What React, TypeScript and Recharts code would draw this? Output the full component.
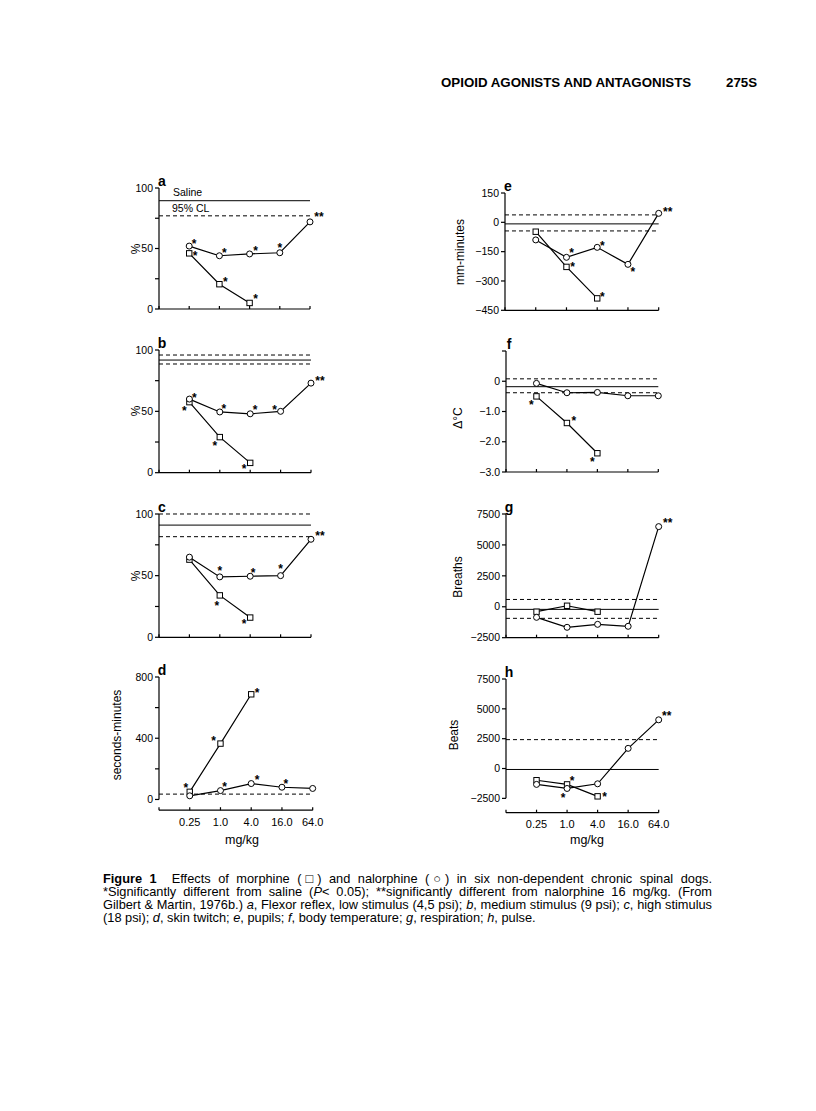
import React from 'react';
import { LineChart, Line, XAxis, YAxis, ReferenceLine, LabelList } from 'recharts';

const FONT = '"Liberation Sans", Arial, Helvetica, sans-serif';

const doseLabels = ['0.25', '1.0', '4.0', '16.0', '64.0'];

// a — flexor reflex, low stimulus (%)
const aMorphine = [46, 20.5, 5];
const aNalorphine = [52, 44, 45.5, 46.5, 72];
const aMorphineSig = ['*', '*', '*'];
const aNalorphineSig = ['*', '*', '*', '*', '**'];
const aSaline = 89.5;
const aCL = [77];

// b — medium stimulus (%)
const bMorphine = [57.5, 29, 8];
const bNalorphine = [60, 49.5, 48, 50, 73];
const bMorphineSig = ['*', '*', '*'];
const bNalorphineSig = ['*', '*', '*', '*', '**'];
const bSaline = 91.8;
const bCL = [95.9, 88.6];

// c — high stimulus (%)
const cMorphine = [63, 34, 16];
const cNalorphine = [65, 49, 49.5, 50, 79.5];
const cMorphineSig = ['', '*', '*'];
const cNalorphineSig = ['', '*', '*', '*', '**'];
const cSaline = 91;
const cCL = [100, 81.6];

// d — skin twitch (seconds-minutes)
const dMorphine = [50, 365, 687];
const dNalorphine = [24, 58, 104, 80, 72];
const dMorphineSig = ['*', '*', '*'];
const dNalorphineSig = ['', '*', '*', '*', ''];
const dCL = [35];

// e — pupils (mm-minutes)
const eMorphine = [-48, -228, -389];
const eNalorphine = [-90, -179, -128, -215, 46];
const eMorphineSig = ['', '*', '*'];
const eNalorphineSig = ['', '*', '*', '*', '**'];
const eSaline = -8;
const eCL = [38, -44];

// f — body temperature (Δ°C)
const fMorphine = [-0.5, -1.38, -2.38];
const fNalorphine = [-0.07, -0.38, -0.37, -0.48, -0.48];
const fMorphineSig = ['*', '*', '*'];
const fNalorphineSig = ['', '', '', '', ''];
const fSaline = -0.18;
const fCL = [0.08, -0.38];

// g — respiration (breaths)
const gMorphine = [-400, 80, -400];
const gNalorphine = [-855, -1660, -1420, -1580, 6480];
const gMorphineSig = ['', '', ''];
const gNalorphineSig = ['', '', '', '', '**'];
const gSaline = -210;
const gCL = [590, -935];

// h — pulse (beats)
const hMorphine = [-980, -1330, -2330];
const hNalorphine = [-1330, -1670, -1280, 1690, 4080];
const hMorphineSig = ['', '*', '*'];
const hNalorphineSig = ['', '*', '', '', '**'];
const hSaline = -80;
const hCL = [2420];

const pctTicks = [0, 25, 50, 75, 100];
const minus = (s: string) => s.replace('-', '\u2212');

type Off = [number, number][];

interface PanelCfg {
  letter: string;
  yLabel: string;
  labelX: number;
  labelY: number;
  x0: number;
  x5: number;
  yTop: number;
  yBot: number;
  domain: [number, number];
  ticks: number[];
  fmt: (v: number) => string;
  morph: number[];
  nal: number[];
  morphSig: string[];
  nalSig: string[];
  morphOff: Off;
  nalOff: Off;
  saline: number | null;
  cl: number[];
  showX?: boolean;
  gapAxis?: number; // y-axis line stops at this value
}

const panels: PanelCfg[] = [
  {
    letter: 'a', yLabel: '%', labelX: 136, labelY: 249,
    x0: 159, x5: 310, yTop: 188, yBot: 309, domain: [0, 100], ticks: pctTicks,
    fmt: (v) => (v % 50 === 0 ? String(v) : ''),
    morph: aMorphine, nal: aNalorphine, morphSig: aMorphineSig, nalSig: aNalorphineSig,
    morphOff: [[6, 0], [6, -5], [6, -6]],
    nalOff: [[5, -5], [5, -5], [6, -5], [0, -7], [9, -7]],
    saline: aSaline, cl: aCL,
  },
  {
    letter: 'b', yLabel: '%', labelX: 136, labelY: 411,
    x0: 159, x5: 311, yTop: 350, yBot: 472.7, domain: [0, 100], ticks: pctTicks,
    fmt: (v) => (v % 50 === 0 ? String(v) : ''),
    morph: bMorphine, nal: bNalorphine, morphSig: bMorphineSig, nalSig: bNalorphineSig,
    morphOff: [[-5, 6], [-5, 6], [-6, 4]],
    nalOff: [[5, -4], [4, -5], [5, -6], [-6, -4], [9, -5]],
    saline: bSaline, cl: bCL,
  },
  {
    letter: 'c', yLabel: '%', labelX: 136, labelY: 576,
    x0: 159, x5: 311, yTop: 514, yBot: 637.3, domain: [0, 100], ticks: pctTicks,
    fmt: (v) => (v % 50 === 0 ? String(v) : ''),
    morph: cMorphine, nal: cNalorphine, morphSig: cMorphineSig, nalSig: cNalorphineSig,
    morphOff: [[0, 0], [-3, 8], [-6, 4]],
    nalOff: [[0, 0], [0, -8], [3, -6], [0, -9], [9, -6]],
    saline: cSaline, cl: cCL,
  },
  {
    letter: 'd', yLabel: 'seconds-minutes', labelX: 117, labelY: 735,
    x0: 159, x5: 312.7, yTop: 677.3, yBot: 810.5, domain: [-70, 800], ticks: [0, 200, 400, 600, 800],
    fmt: (v) => (v % 400 === 0 ? String(v) : ''),
    morph: dMorphine, nal: dNalorphine, morphSig: dMorphineSig, nalSig: dNalorphineSig,
    morphOff: [[-4, -6], [-7, -5], [6, -4]],
    nalOff: [[0, 0], [4, -6], [6, -6], [4, -6], [0, 0]],
    saline: null, cl: dCL, showX: true, gapAxis: 0,
  },
  {
    letter: 'e', yLabel: 'mm-minutes', labelX: 460, labelY: 252,
    x0: 505, x5: 658.7, yTop: 192.7, yBot: 310, domain: [-450, 150], ticks: [-450, -300, -150, 0, 150],
    fmt: (v) => minus(String(v)),
    morph: eMorphine, nal: eNalorphine, morphSig: eMorphineSig, nalSig: eNalorphineSig,
    morphOff: [[0, 0], [6, -2], [5, -4]],
    nalOff: [[0, 0], [5, -7], [5, -4], [5, 5], [9, -4]],
    saline: eSaline, cl: eCL,
  },
  {
    letter: 'f', yLabel: '\u0394\u00b0C', labelX: 458, labelY: 418,
    x0: 506, x5: 658.3, yTop: 350.7, yBot: 471.7, domain: [-3, 1], ticks: [-3, -2, -1, 0, 1],
    fmt: (v) => (v === 1 ? '' : v === 0 ? '0' : minus(v.toFixed(1))),
    morph: fMorphine, nal: fNalorphine, morphSig: fMorphineSig, nalSig: fNalorphineSig,
    morphOff: [[-5, 6], [7, -4], [-5, 6]],
    nalOff: [[0, 0], [0, 0], [0, 0], [0, 0], [0, 0]],
    saline: fSaline, cl: fCL,
  },
  {
    letter: 'g', yLabel: 'Breaths', labelX: 458, labelY: 577,
    x0: 506, x5: 658.7, yTop: 514, yBot: 637.7, domain: [-2500, 7500], ticks: [-2500, 0, 2500, 5000, 7500],
    fmt: (v) => minus(String(v)),
    morph: gMorphine, nal: gNalorphine, morphSig: gMorphineSig, nalSig: gNalorphineSig,
    morphOff: [[0, 0], [0, 0], [0, 0]],
    nalOff: [[0, 0], [0, 0], [0, 0], [0, 0], [9, -6]],
    saline: gSaline, cl: gCL,
  },
  {
    letter: 'h', yLabel: 'Beats', labelX: 454, labelY: 735,
    x0: 506, x5: 658.7, yTop: 679, yBot: 812.7, domain: [-3700, 7500], ticks: [-2500, 0, 2500, 5000, 7500],
    fmt: (v) => minus(String(v)),
    morph: hMorphine, nal: hNalorphine, morphSig: hMorphineSig, nalSig: hNalorphineSig,
    morphOff: [[0, 0], [5, -6], [7, -2]],
    nalOff: [[0, 0], [-4, 7], [0, 0], [0, 0], [8, -6]],
    saline: hSaline, cl: hCL, showX: true, gapAxis: -2500,
  },
];

const starContent = (offs: Off) => (props: any) => {
  const { x, y, value, index } = props;
  if (!value || x == null || y == null) return null;
  const [dx, dy] = offs[index] || [0, 0];
  return (
    <text x={x + dx} y={y + dy + 6.5} textAnchor="middle" fontSize={12} fontWeight="bold"
      fontFamily={FONT} fill="#000">
      {value}
    </text>
  );
};

const squareDot = (props: any) => {
  const { cx, cy, index } = props;
  if (cx == null || cy == null) return <g key={`s${index}`} />;
  return <rect key={`s${index}`} x={cx - 2.7} y={cy - 2.7} width={5.4} height={5.4} fill="#fff" stroke="#000" strokeWidth={1} />;
};

const circleDot = (props: any) => {
  const { cx, cy, index } = props;
  if (cx == null || cy == null) return <g key={`c${index}`} />;
  return <circle key={`c${index}`} cx={cx} cy={cy} r={3} fill="#fff" stroke="#000" strokeWidth={1} />;
};

function Panel({ p }: { p: PanelCfg }) {
  const padL = 60;
  const padR = 30;
  const padT = 14;
  const padB = p.showX ? 30 : 12;
  const plotW = p.x5 - p.x0;
  const plotH = p.yBot - p.yTop;
  const W = padL + plotW + padR;
  const H = padT + plotH + padB;

  const rows = doseLabels.map((_, i) => ({
    x: i + 1,
    morph: i < p.morph.length ? p.morph[i] : null,
    nal: p.nal[i],
    morphSig: i < p.morphSig.length ? p.morphSig[i] : '',
    nalSig: p.nalSig[i],
  }));

  return (
    <div style={{ position: 'absolute', left: p.x0 - padL, top: p.yTop - padT }}>
      <LineChart width={W} height={H} data={rows} margin={{ top: padT, right: padR, left: 0, bottom: 0 }}>
        <XAxis
          dataKey="x" type="number" domain={[0, 5]} ticks={[0, 1, 2, 3, 4, 5]}
          height={padB} tickSize={-3} tickMargin={11} interval={0}
          axisLine={{ stroke: '#000', strokeWidth: 1.2 }}
          tickLine={{ stroke: '#000', strokeWidth: 1.2 }}
          tick={{ fontSize: 11, fill: '#000', fontFamily: FONT }}
          tickFormatter={(v: number) => (p.showX && v > 0 ? doseLabels[v - 1] : '')}
        />
        <YAxis
          type="number" domain={p.domain} ticks={p.ticks} width={padL} allowDataOverflow
          tickSize={4} tickMargin={2} interval={0}
          axisLine={p.gapAxis === undefined ? { stroke: '#000', strokeWidth: 1.2 } : false}
          tickLine={{ stroke: '#000', strokeWidth: 1.2 }}
          tick={{ fontSize: 10.5, fill: '#000', fontFamily: FONT }}
          tickFormatter={p.fmt}
        />
        {p.gapAxis !== undefined && (
          <ReferenceLine
            segment={[{ x: 0, y: p.gapAxis }, { x: 0, y: p.domain[1] }]}
            stroke="#000" strokeWidth={1.2}
          />
        )}
        {p.saline !== null && <ReferenceLine y={p.saline} stroke="#000" strokeWidth={1} />}
        {p.cl.map((v, i) => (
          <ReferenceLine key={i} y={v} stroke="#000" strokeWidth={1} strokeDasharray="4 3" />
        ))}
        <Line
          dataKey="morph" stroke="#000" strokeWidth={1.2} dot={squareDot}
          isAnimationActive={false} connectNulls={false}
        >
          <LabelList dataKey="morphSig" content={starContent(p.morphOff)} />
        </Line>
        <Line
          dataKey="nal" stroke="#000" strokeWidth={1.2} dot={circleDot}
          isAnimationActive={false}
        >
          <LabelList dataKey="nalSig" content={starContent(p.nalOff)} />
        </Line>
      </LineChart>
      <div style={{
        position: 'absolute', left: padL + 3, top: padT - 14, fontFamily: FONT,
        fontWeight: 'bold', fontSize: 14, lineHeight: '14px', transform: 'translateX(-50%)',
      }}>
        {p.letter}
      </div>
    </div>
  );
}

function AxisTitle({ text, x, y }: { text: string; x: number; y: number }) {
  return (
    <div style={{
      position: 'absolute', left: x, top: y, transform: 'translate(-50%, -50%) rotate(-90deg)',
      whiteSpace: 'nowrap', fontFamily: FONT, fontSize: 12, lineHeight: '12px',
    }}>
      {text}
    </div>
  );
}

export default function App() {
  const lineStyle = (i: number): React.CSSProperties => ({
    position: 'absolute', left: 103, top: 872 + i * 13, width: 609, fontSize: 12.8, lineHeight: '13px',
    whiteSpace: 'nowrap', textAlign: 'justify', textAlignLast: i < 3 ? 'justify' : 'left',
  });
  return (
    <div style={{
      position: 'absolute', left: 0, top: 0, width: 816, height: 1111, background: '#fff',
      fontFamily: FONT, color: '#000',
    }}>
      <div style={{ position: 'absolute', left: 441, top: 75, fontSize: 13.3, fontWeight: 'bold', whiteSpace: 'nowrap' }}>
        OPIOID AGONISTS AND ANTAGONISTS
      </div>
      <div style={{ position: 'absolute', left: 726, top: 75, fontSize: 13.3, fontWeight: 'bold' }}>275S</div>

      {panels.map((p) => (
        <Panel key={p.letter} p={p} />
      ))}
      {panels.map((p) => (
        <AxisTitle key={`t${p.letter}`} text={p.yLabel} x={p.labelX} y={p.labelY} />
      ))}

      <div style={{ position: 'absolute', left: 173, top: 186, fontSize: 10.5 }}>Saline</div>
      <div style={{ position: 'absolute', left: 172, top: 202, fontSize: 10.5 }}>95% CL</div>

      <div style={{ position: 'absolute', left: 242, top: 833, fontSize: 12.5, transform: 'translateX(-50%)' }}>mg/kg</div>
      <div style={{ position: 'absolute', left: 587, top: 833, fontSize: 12.5, transform: 'translateX(-50%)' }}>mg/kg</div>

      <div style={lineStyle(0)}>
        <b>Figure 1</b>&nbsp; Effects of morphine ({'\u25a1'}) and nalorphine ({'\u25cb'}) in six non-dependent chronic spinal dogs.
      </div>
      <div style={lineStyle(1)}>
        *Significantly different from saline (<i>P</i>&lt; 0.05); **significantly different from nalorphine 16 mg/kg. (From
      </div>
      <div style={lineStyle(2)}>
        Gilbert &amp; Martin, 1976b.) <i>a</i>, Flexor reflex, low stimulus (4,5 psi); <i>b</i>, medium stimulus (9 psi); <i>c</i>, high stimulus
      </div>
      <div style={lineStyle(3)}>
        (18 psi); <i>d</i>, skin twitch; <i>e</i>, pupils; <i>f</i>, body temperature; <i>g</i>, respiration; <i>h</i>, pulse.
      </div>
    </div>
  );
}
